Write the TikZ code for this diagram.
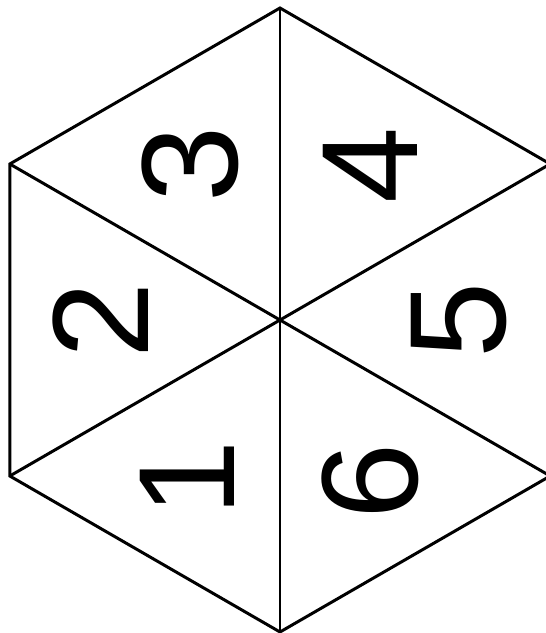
\documentclass[tikz,border=0pt]{standalone}
\usepackage{fontspec}
\setmainfont{Liberation Sans}

\begin{document}
\begin{tikzpicture}[x=0.02cm, y=0.02cm, line width=1.7pt, line join=miter,
    cara/.style={rotate=90, inner sep=0pt, font=\fontsize{78}{78}\selectfont}]
  \useasboundingbox (0,0) rectangle (545,633);
  \coordinate (c) at (280,313);
  % vertices of the hexagon
  \foreach \i/\a in {1/90, 2/150, 3/210, 4/270, 5/330, 6/30}
    \path (c) ++(\a:312) coordinate (v\i);
  \draw (v1) -- (v2) -- (v3) -- (v4) -- (v5) -- (v6) -- cycle;
  \foreach \i in {1,...,6} \draw (c) -- (v\i);
  % numbers, turned a quarter
  \foreach \t/\px/\py in {1/187/155, 2/101/313, 3/190/469, 4/370/468, 5/459/313, 6/370/152}
    \node[cara] (n\t) at (\px,\py) {\t};
\end{tikzpicture}
\end{document}
